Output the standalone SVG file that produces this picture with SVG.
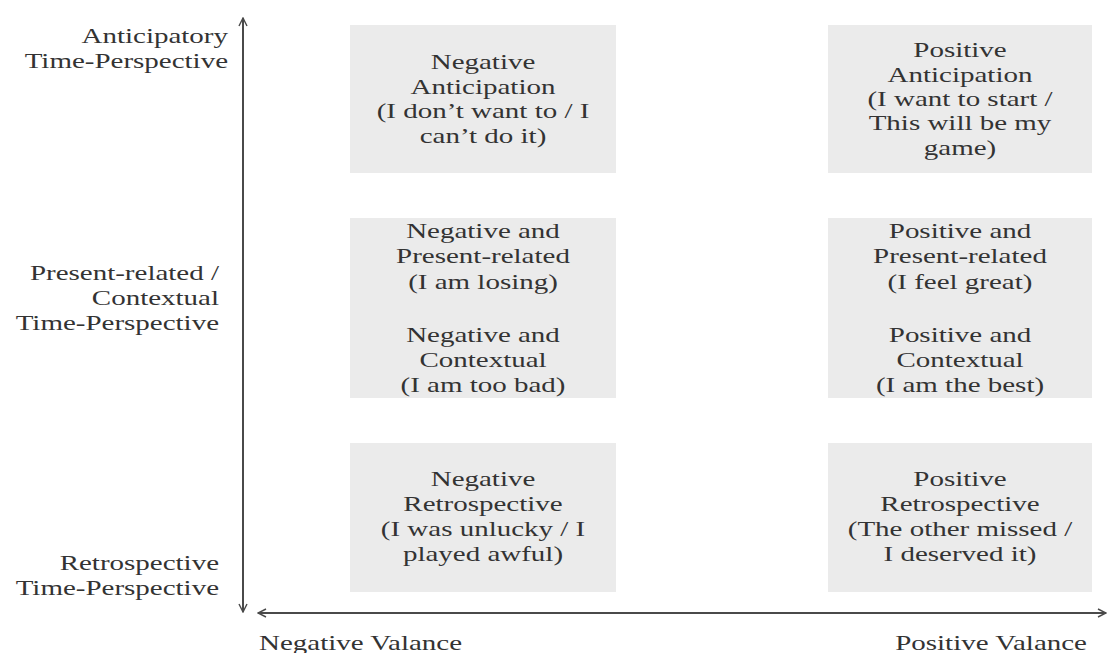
<svg xmlns="http://www.w3.org/2000/svg" width="1108" height="653" viewBox="0 0 1108 653">
<style>
.box{fill:#ebebeb;}
.t{font-family:"Liberation Serif","Times New Roman",serif;font-size:20px;fill:#333333;}
.c{text-anchor:middle;}
.r{text-anchor:end;}
.axis{stroke:#4a4a4a;stroke-width:2;fill:none;}
</style>
<defs>
<marker id="ah" viewBox="0 0 10 10" refX="9" refY="5" markerWidth="5" markerHeight="5" orient="auto-start-reverse" markerUnits="strokeWidth">
<path d="M1,1 L9,5 L1,9" fill="none" stroke="#4a4a4a" stroke-width="1.4"/>
</marker>
</defs>
<rect width="1108" height="653" fill="#ffffff"/>
<g id="connectors">
<line class="axis" x1="243" y1="18" x2="243" y2="612" marker-start="url(#ah)" marker-end="url(#ah)"/>
<line class="axis" x1="258" y1="613" x2="1106" y2="613" marker-start="url(#ah)" marker-end="url(#ah)"/>
</g>
<g id="label-anticipatory" transform="translate(228,0) scale(1.45,1)">
<text class="t r" x="0" y="43">Anticipatory</text>
<text class="t r" x="0" y="68">Time-Perspective</text>
</g>
<g id="label-present" transform="translate(219,0) scale(1.45,1)">
<text class="t r" x="0" y="280">Present-related /</text>
<text class="t r" x="0" y="305">Contextual</text>
<text class="t r" x="0" y="330">Time-Perspective</text>
</g>
<g id="label-retrospective" transform="translate(219,0) scale(1.45,1)">
<text class="t r" x="0" y="570">Retrospective</text>
<text class="t r" x="0" y="595">Time-Perspective</text>
</g>
<g id="label-negative-valance" transform="translate(259,0) scale(1.45,1)">
<text class="t" x="0" y="650">Negative Valance</text>
</g>
<g id="label-positive-valance" transform="translate(1087,0) scale(1.45,1)">
<text class="t r" x="0" y="650">Positive Valance</text>
</g>
<g id="neg-anticipation">
<rect class="box" x="350" y="25" width="266" height="148"/>
<g transform="translate(483,0) scale(1.45,1)">
<text class="t c" x="0" y="69">Negative</text>
<text class="t c" x="0" y="94">Anticipation</text>
<text class="t c" x="0" y="118">(I don’t want to / I</text>
<text class="t c" x="0" y="143">can’t do it)</text>
</g>
</g>
<g id="pos-anticipation">
<rect class="box" x="828" y="25" width="264" height="148"/>
<g transform="translate(960,0) scale(1.45,1)">
<text class="t c" x="0" y="57">Positive</text>
<text class="t c" x="0" y="82">Anticipation</text>
<text class="t c" x="0" y="106">(I want to start /</text>
<text class="t c" x="0" y="130">This will be my</text>
<text class="t c" x="0" y="155">game)</text>
</g>
</g>
<g id="neg-present">
<rect class="box" x="350" y="218" width="266" height="180"/>
<g transform="translate(483,0) scale(1.45,1)">
<text class="t c" x="0" y="238">Negative and</text>
<text class="t c" x="0" y="263">Present-related</text>
<text class="t c" x="0" y="289">(I am losing)</text>
<text class="t c" x="0" y="342">Negative and</text>
<text class="t c" x="0" y="367">Contextual</text>
<text class="t c" x="0" y="392">(I am too bad)</text>
</g>
</g>
<g id="pos-present">
<rect class="box" x="828" y="218" width="264" height="180"/>
<g transform="translate(960,0) scale(1.45,1)">
<text class="t c" x="0" y="238">Positive and</text>
<text class="t c" x="0" y="263">Present-related</text>
<text class="t c" x="0" y="289">(I feel great)</text>
<text class="t c" x="0" y="342">Positive and</text>
<text class="t c" x="0" y="367">Contextual</text>
<text class="t c" x="0" y="392">(I am the best)</text>
</g>
</g>
<g id="neg-retrospective">
<rect class="box" x="350" y="443" width="266" height="149"/>
<g transform="translate(483,0) scale(1.45,1)">
<text class="t c" x="0" y="486">Negative</text>
<text class="t c" x="0" y="511">Retrospective</text>
<text class="t c" x="0" y="536">(I was unlucky / I</text>
<text class="t c" x="0" y="561">played awful)</text>
</g>
</g>
<g id="pos-retrospective">
<rect class="box" x="828" y="443" width="264" height="149"/>
<g transform="translate(960,0) scale(1.45,1)">
<text class="t c" x="0" y="486">Positive</text>
<text class="t c" x="0" y="511">Retrospective</text>
<text class="t c" x="0" y="536">(The other missed /</text>
<text class="t c" x="0" y="561">I deserved it)</text>
</g>
</g>
</svg>
